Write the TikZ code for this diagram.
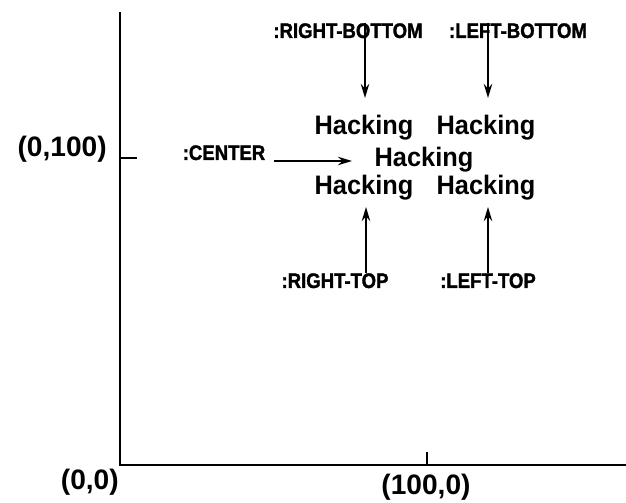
\documentclass[tikz,border=0pt]{standalone}
\usepackage{fontspec}
\setmainfont{Liberation Sans}
\newfontfamily\hackfont[FakeStretch=0.95]{Liberation Sans}
\newfontfamily\keyfont[FakeStretch=0.88,FakeBold=1.5]{Liberation Sans}
\usetikzlibrary{arrows.meta}

\begin{document}
\begin{tikzpicture}[
    x=0.025cm,
    y=-0.025cm,
    hack/.style={anchor=base,inner sep=0pt,font=\hackfont\bfseries\fontsize{19pt}{19pt}\selectfont},
    keyword/.style={anchor=base,inner sep=0pt,font=\keyfont\bfseries\fontsize{15pt}{15pt}\selectfont},
    axislabel/.style={inner sep=0pt,font=\bfseries\fontsize{20pt}{20pt}\selectfont},
    pointer/.style={line width=1.4pt,-{Stealth[length=10pt,width=6pt]}}
    ]
    \useasboundingbox (0,0) rectangle (626,503);

    % axes
    \coordinate (origin) at (120,465);
    \coordinate (ytop) at (120,12);
    \coordinate (xend) at (626,465);
    \coordinate (ytick) at (120,158);
    \coordinate (xtick) at (427,465);
    \draw[line width=1.8pt] (ytop) -- (origin) -- (xend);
    \draw[line width=1.2pt] (ytick) -- ++(17,0);
    \draw[line width=0.8pt] (xtick) -- ++(0,-13);

    \node[axislabel,anchor=base east] (l100) at (107,157) {(0,100)};
    \node[axislabel,anchor=base east] (l00)  at (119,490) {(0,0)};
    \node[axislabel,anchor=base]      (l10)  at (426,495) {(100,0)};

    % text
    \node[hack] (h1) at (364,135) {Hacking};
    \node[hack] (h2) at (486,135) {Hacking};
    \node[hack] (h3) at (424,167) {Hacking};
    \node[hack] (h4) at (364,195) {Hacking};
    \node[hack] (h5) at (486,195) {Hacking};

    % keywords
    \node[keyword] (rb) at (348,38) {:RIGHT-BOTTOM};
    \node[keyword] (lb) at (518,38) {:LEFT-BOTTOM};
    \node[keyword] (ce) at (224,160) {:CENTER};
    \node[keyword] (rt) at (335,288) {:RIGHT-TOP};
    \node[keyword] (lt) at (488,288) {:LEFT-TOP};

    \coordinate (rbtip) at (365,98);
    \coordinate (lbtip) at (488,98);
    \coordinate (cetip) at (352,161);
    \coordinate (rttip) at (366,207);
    \coordinate (lttip) at (488,207);

    % arrows
    \draw[pointer] (rb.north -| rbtip) -- (rbtip);
    \draw[pointer] (lb.north -| lbtip) -- (lbtip);
    \draw[pointer] ([xshift=6]ce.east |- cetip) -- (cetip);
    \draw[pointer] (rt.north -| rttip) -- (rttip);
    \draw[pointer] (lt.north -| lttip) -- (lttip);
\end{tikzpicture}
\end{document}
